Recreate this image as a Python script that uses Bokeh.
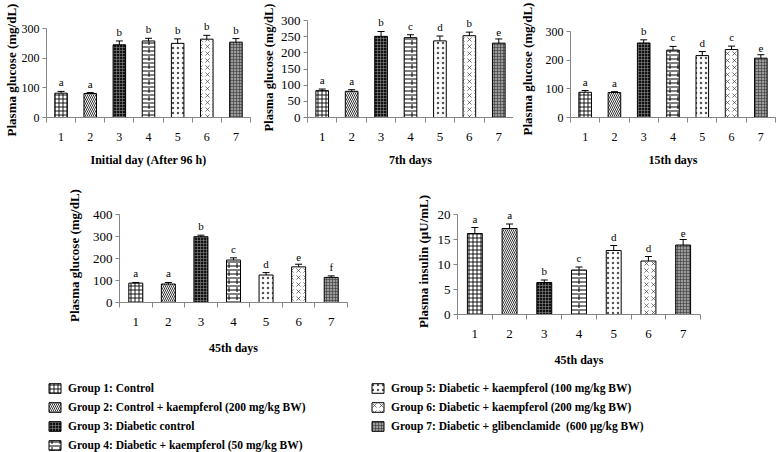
from bokeh.plotting import figure
from bokeh.layouts import column, row
from bokeh.models import (Range1d, FixedTicker, Whisker, TeeHead, ColumnDataSource,
                          Legend, LegendItem, LabelSet)
from bokeh.core.properties import value
from bokeh.embed import file_html
from bokeh.resources import INLINE

# ---------------- data ----------------
groups = [1, 2, 3, 4, 5, 6, 7]
group_names = [
    "Group 1: Control",
    "Group 2: Control + kaempferol (200 mg/kg BW)",
    "Group 3: Diabetic control",
    "Group 4: Diabetic + kaempferol (50 mg/kg BW)",
    "Group 5: Diabetic + kaempferol (100 mg/kg BW)",
    "Group 6: Diabetic + kaempferol (200 mg/kg BW)",
    "Group 7: Diabetic + glibenclamide  (600 \u00b5g/kg BW)",
]

glucose_initial = [82, 81, 245, 258, 250, 264, 254]
glucose_initial_err = [6, 3, 13, 9, 15, 13, 12]
glucose_initial_letters = ["a", "a", "b", "b", "b", "b", "b"]

glucose_day7 = [83, 81, 251, 247, 237, 253, 230]
glucose_day7_err = [5, 5, 15, 9, 15, 11, 13]
glucose_day7_letters = ["a", "a", "b", "c", "d", "b", "e"]

glucose_day15 = [88, 87, 260, 235, 216, 237, 207]
glucose_day15_err = [6, 3, 11, 13, 14, 12, 12]
glucose_day15_letters = ["a", "a", "b", "c", "d", "c", "e"]

glucose_day45 = [88, 84, 299, 193, 125, 162, 114]
glucose_day45_err = [3, 7, 7, 10, 11, 12, 7]
glucose_day45_letters = ["a", "a", "b", "c", "d", "e", "f"]

insulin_day45 = [16.2, 17.2, 6.4, 8.9, 12.8, 10.7, 13.9]
insulin_day45_err = [1.2, 0.9, 0.5, 0.6, 1.0, 0.9, 1.1]
insulin_day45_letters = ["a", "a", "b", "c", "d", "d", "e"]

# ---------------- styles ----------------
SERIF = "Liberation Serif"
AXIS_GREY = "#868686"

# each group: list of layers (first layer carries fill + outline)
bar_styles = [
    [dict(fill_color="white", hatch_pattern="cross", hatch_color="black", hatch_scale=4, hatch_weight=0.9)],
    [dict(fill_color="white", hatch_pattern="left_diagonal_line", hatch_color="black", hatch_scale=4, hatch_weight=0.8)],
    [dict(fill_color="#111111", hatch_pattern="cross", hatch_color="#8a8a8a", hatch_scale=3, hatch_weight=0.6)],
    [dict(fill_color="white", hatch_pattern="horizontal_line", hatch_color="black", hatch_scale=4, hatch_weight=1.0),
     dict(fill_color=None, hatch_pattern="vertical_dash", hatch_color="black", hatch_scale=8, hatch_weight=1.0)],
    [dict(fill_color="white", hatch_pattern="dot", hatch_color="#555555", hatch_scale=5, hatch_weight=0.8)],
    [dict(fill_color="white", hatch_pattern="right_diagonal_dash", hatch_color="#444444", hatch_scale=7, hatch_weight=0.7),
     dict(fill_color=None, hatch_pattern="left_diagonal_dash", hatch_color="#444444", hatch_scale=7, hatch_weight=0.7)],
    [dict(fill_color="#9a9a9a", hatch_pattern="cross", hatch_color="#3a3a3a", hatch_scale=3, hatch_weight=0.6)],
]


def draw_bar(p, g, top, style_layers, width):
    rs = []
    for k, st in enumerate(style_layers):
        st = dict(st)
        st["hatch_pattern"] = value(st["hatch_pattern"])
        rs.append(p.vbar(x=[g], top=[top], width=width,
                         line_color="black" if k == 0 else None, line_width=1, **st))
    return rs


def make_panel(vals, errs, letters, ymax, ystep, ylabel, xlabel, width, height,
               left, right, frame_top, axis_top, axis_zero, tick_size="12px",
               label_size="13px", title_size="12px", ylabel_standoff=4, xlabel_standoff=10):
    # frame spans frame_top..axis_zero (pixels inside the figure); the value axis
    # itself only runs from 0 up to ymax, drawn at pixel axis_top
    y_end = ymax * (axis_zero - frame_top) / (axis_zero - axis_top)
    p = figure(width=width, height=height, x_range=Range1d(0.5, 7.5),
               y_range=Range1d(0, y_end), output_backend="svg", toolbar_location=None,
               min_border_left=left, min_border_right=right,
               min_border_top=frame_top, min_border_bottom=height - axis_zero)
    p.frame_align = False
    p.grid.visible = False
    p.outline_line_color = None
    p.background_fill_color = None
    p.border_fill_color = None

    for i, g in enumerate(groups):
        draw_bar(p, g, vals[i], bar_styles[i], 0.43)

    src = ColumnDataSource(dict(
        x=groups,
        lower=[v - e for v, e in zip(vals, errs)],
        upper=[v + e for v, e in zip(vals, errs)],
        letter=letters,
    ))
    w = Whisker(source=src, base="x", lower="lower", upper="upper",
                line_color="black", line_width=1,
                upper_head=TeeHead(size=7, line_color="black", line_width=1),
                lower_head=TeeHead(size=7, line_color="black", line_width=1))
    p.add_layout(w)
    labels = LabelSet(x="x", y="upper", text="letter", source=src, text_align="center",
                      text_baseline="bottom", y_offset=3, text_font=SERIF,
                      text_font_size="11px", text_color="black")
    p.add_layout(labels)

    xa = p.xaxis[0]
    xa.ticker = FixedTicker(ticks=groups, minor_ticks=[g - 0.5 for g in groups] + [7.5])
    xa.major_tick_out = 0
    xa.major_tick_in = 0
    xa.minor_tick_out = 5
    xa.minor_tick_in = 0
    xa.minor_tick_line_color = AXIS_GREY
    xa.axis_line_color = AXIS_GREY
    xa.major_label_standoff = 10
    xa.major_label_text_font = SERIF
    xa.major_label_text_font_size = tick_size
    xa.major_label_text_color = "black"
    xa.axis_label = xlabel
    xa.axis_label_text_font = SERIF
    xa.axis_label_text_font_style = "bold"
    xa.axis_label_text_font_size = title_size
    xa.axis_label_text_color = "black"
    xa.axis_label_standoff = xlabel_standoff

    ya = p.yaxis[0]
    ya.ticker = FixedTicker(ticks=list(range(0, ymax + 1, ystep)), minor_ticks=[])
    ya.bounds = (0, ymax)
    ya.major_tick_out = 4
    ya.major_tick_in = 0
    ya.major_tick_line_color = AXIS_GREY
    ya.axis_line_color = AXIS_GREY
    ya.major_label_standoff = 3
    ya.major_label_text_font = SERIF
    ya.major_label_text_font_size = tick_size
    ya.major_label_text_color = "black"
    ya.axis_label = ylabel
    ya.axis_label_text_font = SERIF
    ya.axis_label_text_font_style = "bold"
    ya.axis_label_text_font_size = label_size
    ya.axis_label_text_color = "black"
    ya.axis_label_standoff = ylabel_standoff
    return p


GLU = "Plasma glucose (mg/dL)"
f1 = make_panel(glucose_initial, glucose_initial_err, glucose_initial_letters, 300, 100,
                GLU, "Initial day (After 96 h)", 255, 175, 42, 5, 22, 28, 117,
                ylabel_standoff=0, xlabel_standoff=9)
f2 = make_panel(glucose_day7, glucose_day7_err, glucose_day7_letters, 300, 50,
                GLU, "7th days", 258, 175, 52, 0, 17, 20, 117, tick_size="13px",
                label_size="12.5px", ylabel_standoff=2, xlabel_standoff=9)
f3 = make_panel(glucose_day15, glucose_day15_err, glucose_day15_letters, 300, 100,
                GLU, "15th days", 264, 175, 57, 2, 20, 31, 117,
                ylabel_standoff=8, xlabel_standoff=9)
f4 = make_panel(glucose_day45, glucose_day45_err, glucose_day45_letters, 400, 100,
                GLU, "45th days", 390, 197, 119, 43, 33, 39, 127, tick_size="13px",
                ylabel_standoff=8, xlabel_standoff=12)
f5 = make_panel(insulin_day45, insulin_day45_err, insulin_day45_letters, 20, 5,
                "Plasma insulin (\u00b5U/mL)", "45th days", 387, 197, 67, 77, 33, 39, 139,
                tick_size="13px", ylabel_standoff=4, xlabel_standoff=12)

# ---------------- legend panel ----------------
leg = figure(width=777, height=80, x_range=Range1d(100, 101), y_range=Range1d(100, 101),
             output_backend="svg", toolbar_location=None, x_axis_type=None, y_axis_type=None,
             min_border=0)
leg.frame_align = False
leg.grid.visible = False
leg.outline_line_color = None
items = []
for i, g in enumerate(groups):
    rs = draw_bar(leg, g, 1, bar_styles[i], 0.4)
    items.append(LegendItem(label=group_names[i], renderers=rs))


def make_legend(its, loc):
    return Legend(items=its, location=loc, orientation="vertical",
                  label_text_font=SERIF, label_text_font_style="bold",
                  label_text_font_size="11.5px", label_text_color="black",
                  glyph_width=15, glyph_height=12, label_height=14, label_standoff=6,
                  spacing=5, padding=0, margin=0, border_line_color=None,
                  background_fill_alpha=0)


leg.add_layout(make_legend(items[:4], (47, 0)))
leg.add_layout(make_legend(items[4:], (370, 19)))

layout = column(row(f1, f2, f3), row(f4, f5), leg)
open("out.html", "w").write(file_html(layout, INLINE))
